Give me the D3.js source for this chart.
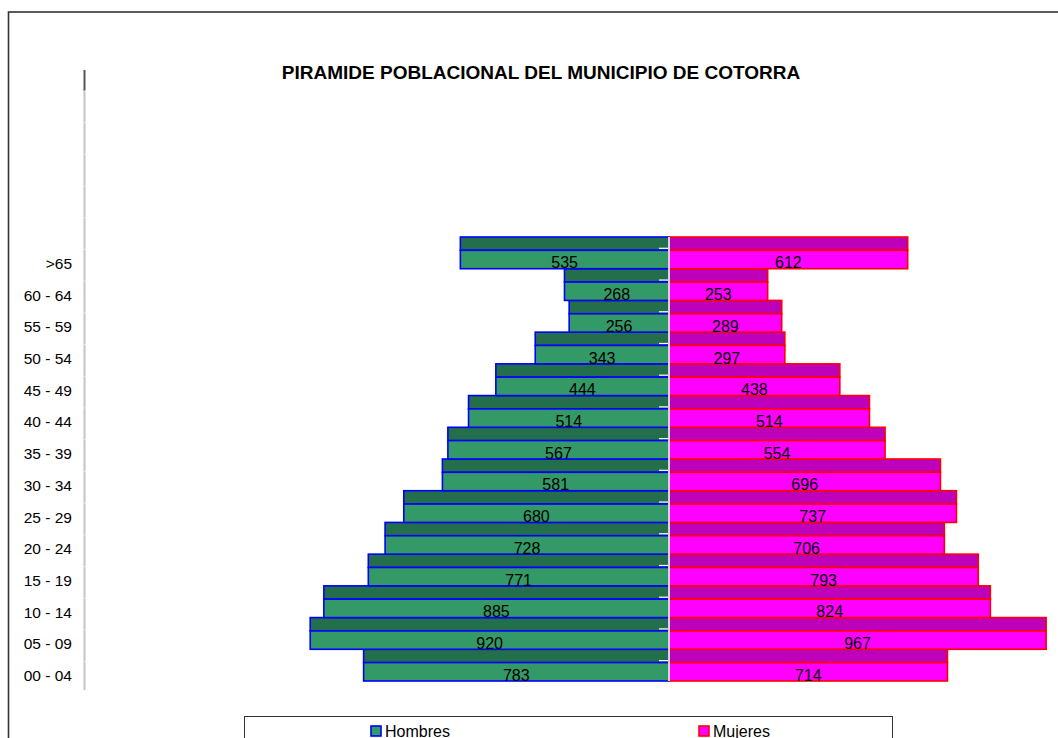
<!DOCTYPE html>
<html>
<head>
<meta charset="utf-8">
<script src="https://cdn.jsdelivr.net/npm/d3@7"></script>
<style>
	body { margin: 0; background: #fff; }
	svg { display: block; font-family: Arial, "Liberation Sans", sans-serif; }
</style>
</head>
<body>
<svg id="chart" width="1058" height="738"></svg>
<script>
// Data
const groups = [">65", "60 - 64", "55 - 59", "50 - 54", "45 - 49", "40 - 44", "35 - 39",
	"30 - 34", "25 - 29", "20 - 24", "15 - 19", "10 - 14", "05 - 09", "00 - 04"];
const hombres = [535, 268, 256, 343, 444, 514, 567, 581, 680, 728, 771, 885, 920, 783];
const mujeres = [612, 253, 289, 297, 438, 514, 554, 696, 737, 706, 793, 824, 967, 714];
const seriesNames = ["Hombres", "Mujeres"];

const svg = d3.select("#chart");
const cx = 669;

// frame
svg.append("rect")
	.attr("x", 8.5).attr("y", 12)
	.attr("width", 1200).attr("height", 900)
	.style("fill", "none")
	.style("stroke", "#333")
	.style("stroke-width", 1.6);

// title
svg.append("text")
	.attr("x", 541).attr("y", 79)
	.attr("text-anchor", "middle")
	.style("font-size", "19px")
	.style("font-weight", "bold")
	.text("PIRAMIDE POBLACIONAL DEL MUNICIPIO DE COTORRA");

// Scales
const x = d3.scaleLinear().domain([0, 1000]).range([0, 390]);
const y = d3.scaleBand().domain(groups).range([237, 681]);
const darkH = y.bandwidth() * 0.42;

const rows = groups.map((g, i) => ({ g: g, h: hombres[i], m: mujeres[i] }));

// axis line
svg.append("line")
	.attr("x1", 84.5).attr("x2", 84.5).attr("y1", 91).attr("y2", 690)
	.style("stroke", "#c4c4c4").style("stroke-width", 2);
svg.append("line")
	.attr("x1", 84.5).attr("x2", 84.5).attr("y1", 70).attr("y2", 91)
	.style("stroke", "#555").style("stroke-width", 2);
// faint notches on the axis
svg.append("g").selectAll("line")
	.data(d3.range(91, 690, 31.7))
	.join("line")
	.attr("x1", 84).attr("x2", 86)
	.attr("y1", d => d).attr("y2", d => d)
	.style("stroke", "#eee");

// axis labels
const yAxis = svg.append("g")
	.attr("transform", "translate(84,0)")
	.call(d3.axisLeft(y).tickSize(0).tickPadding(12));
yAxis.select(".domain").remove();
yAxis.selectAll("text")
	.attr("dy", 0)
	.attr("y", 16)
	.style("font-size", "15.5px")
	.style("font-family", "Arial, 'Liberation Sans', sans-serif")
	.style("fill", "#000");

// Hombres
const men = svg.append("g");
men.selectAll("rect.top")
	.data(rows)
	.join("rect")
	.attr("class", "top")
	.attr("x", d => cx - x(d.h))
	.attr("y", d => y(d.g))
	.attr("width", d => x(d.h))
	.attr("height", darkH)
	.style("fill", "#246f4b")
	.style("stroke", "#0000ff")
	.style("stroke-width", 1.6);
men.selectAll("rect.low")
	.data(rows)
	.join("rect")
	.attr("class", "low")
	.attr("x", d => cx - x(d.h))
	.attr("y", d => y(d.g) + darkH)
	.attr("width", d => x(d.h))
	.attr("height", y.bandwidth() - darkH)
	.style("fill", "#339966")
	.style("stroke", "#0000ff")
	.style("stroke-width", 1.6);

// Mujeres
const women = svg.append("g");
women.selectAll("rect.top")
	.data(rows)
	.join("rect")
	.attr("class", "top")
	.attr("x", cx)
	.attr("y", d => y(d.g))
	.attr("width", d => x(d.m))
	.attr("height", darkH)
	.style("fill", "#bf00bb")
	.style("stroke", "#ff0000")
	.style("stroke-width", 1.6);
women.selectAll("rect.low")
	.data(rows)
	.join("rect")
	.attr("class", "low")
	.attr("x", cx)
	.attr("y", d => y(d.g) + darkH)
	.attr("width", d => x(d.m))
	.attr("height", y.bandwidth() - darkH)
	.style("fill", "#ff00ff")
	.style("stroke", "#ff0000")
	.style("stroke-width", 1.6);

// white ticks + center line
svg.append("g").selectAll("line")
	.data(rows)
	.join("line")
	.attr("x1", 659).attr("x2", 668)
	.attr("y1", d => y(d.g) + darkH - 2)
	.attr("y2", d => y(d.g) + darkH - 2)
	.style("stroke", "#fff")
	.style("stroke-width", 1.2);
svg.append("line")
	.attr("x1", cx).attr("x2", cx)
	.attr("y1", y.range()[0]).attr("y2", y.range()[1])
	.style("stroke", "#d8d4e8")
	.style("stroke-width", 2);

// value labels
svg.append("g").selectAll("text")
	.data(rows)
	.join("text")
	.attr("x", d => cx - x(d.h) / 2)
	.attr("y", d => y(d.g) + y.bandwidth() * 0.8 + 6)
	.attr("text-anchor", "middle")
	.style("font-size", "16px")
	.text(d => d.h);
svg.append("g").selectAll("text")
	.data(rows)
	.join("text")
	.attr("x", d => cx + x(d.m) / 2)
	.attr("y", d => y(d.g) + y.bandwidth() * 0.8 + 6)
	.attr("text-anchor", "middle")
	.style("font-size", "16px")
	.text(d => d.m);

// Legend
svg.append("rect")
	.attr("x", 244.5).attr("y", 716.5)
	.attr("width", 648).attr("height", 40)
	.style("fill", "#fff")
	.style("stroke", "#333")
	.style("stroke-width", 1);
const legend = svg.append("g").selectAll("g")
	.data(seriesNames)
	.join("g")
	.attr("transform", (d, i) => `translate(${i === 0 ? 371 : 699},726)`);
legend.append("rect")
	.attr("width", 10).attr("height", 10)
	.style("fill", (d, i) => i === 0 ? "#339966" : "#ff00ff")
	.style("stroke", (d, i) => i === 0 ? "#0000ff" : "#ff0000")
	.style("stroke-width", 1.6);
legend.append("text")
	.attr("x", 14).attr("y", 11)
	.style("font-size", "16px")
	.text(d => d);
</script>
</body>
</html>
